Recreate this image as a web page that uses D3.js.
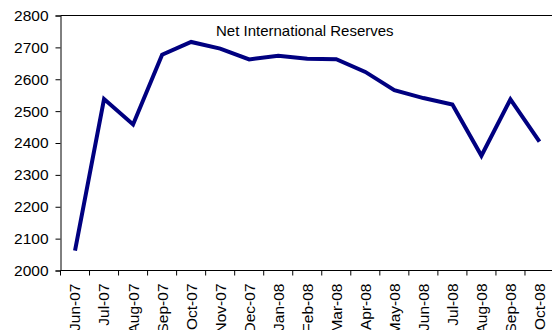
<!DOCTYPE html>
<html>
<head>
<meta charset="utf-8">
<script src="https://cdn.jsdelivr.net/npm/d3@7"></script>
<style>
  html, body { margin: 0; padding: 0; background: #fff; }
  svg { display: block; }
  text { font-family: Arial, "Liberation Sans", sans-serif; fill: #000; }
</style>
</head>
<body>
<svg id="chart" width="552" height="330"></svg>
<script>
// Monthly net international reserves
const months = ["Jun-07", "Jul-07", "Aug-07", "Sep-07", "Oct-07", "Nov-07", "Dec-07",
                "Jan-08", "Feb-08", "Mar-08", "Apr-08", "May-08", "Jun-08", "Jul-08",
                "Aug-08", "Sep-08", "Oct-08"];
const reserves = [2062, 2538, 2458, 2677, 2717, 2696, 2662, 2674, 2664, 2663,
                  2623, 2566, 2541, 2521, 2360, 2537, 2404];
const yTicks = [2000, 2100, 2200, 2300, 2400, 2500, 2600, 2700, 2800];
const title = "Net International Reserves";

const svg = d3.select("#chart");
const plotLeft = 60.5, plotRight = 554, plotTop = 15.5, plotBottom = 270.5;

const x = d3.scaleBand().domain(months).range([plotLeft, plotRight]).paddingInner(0).paddingOuter(0);
const y = d3.scaleLinear().domain([2000, 2800]).range([plotBottom, plotTop]);

// Top frame line
svg.append("line")
  .attr("x1", plotLeft).attr("x2", plotRight)
  .attr("y1", plotTop).attr("y2", plotTop)
  .attr("stroke", "#000").attr("stroke-width", 1);

// Y axis
const yAxis = svg.append("g")
  .attr("transform", `translate(${plotLeft},0)`)
  .call(d3.axisLeft(y).tickValues(yTicks).tickFormat(d3.format("d")).tickSizeOuter(0).tickSize(5).tickPadding(7));
yAxis.select(".domain").attr("stroke", "#000");
yAxis.selectAll(".tick line").attr("stroke", "#000");
yAxis.selectAll("text").attr("font-size", "15.5px").attr("font-family", "Arial, 'Liberation Sans', sans-serif").attr("fill", "#000");

// X axis: ticks at category boundaries
const xg = svg.append("g").attr("transform", `translate(0,${plotBottom})`);
xg.append("line")
  .attr("x1", plotLeft).attr("x2", plotRight).attr("y1", 0).attr("y2", 0)
  .attr("stroke", "#000").attr("stroke-width", 1);
const boundaries = months.map(m => x(m)).concat([x(months[months.length - 1]) + x.bandwidth()]);
xg.selectAll("line.tick")
  .data(boundaries)
  .enter().append("line")
  .attr("class", "tick")
  .attr("x1", d => d).attr("x2", d => d)
  .attr("y1", 0).attr("y2", 5)
  .attr("stroke", "#000");
xg.selectAll("text.lbl")
  .data(months)
  .enter().append("text")
  .attr("class", "lbl")
  .attr("font-size", "15.5px")
  .attr("text-anchor", "end")
  .attr("dy", "0.35em")
  .attr("transform", d => `translate(${x(d) + x.bandwidth() / 2},13) rotate(-90)`)
  .text(d => d);

// Series line
const line = d3.line()
  .x((d, i) => x(months[i]) + x.bandwidth() / 2)
  .y(d => y(d));
svg.append("path")
  .datum(reserves)
  .attr("d", line)
  .attr("fill", "none")
  .attr("stroke", "#000080")
  .attr("stroke-width", 4)
  .attr("stroke-linejoin", "miter");

// Title inside plot area
svg.append("text")
  .attr("x", 216).attr("y", 36)
  .attr("font-size", "15px")
  .text(title);
</script>
</body>
</html>
